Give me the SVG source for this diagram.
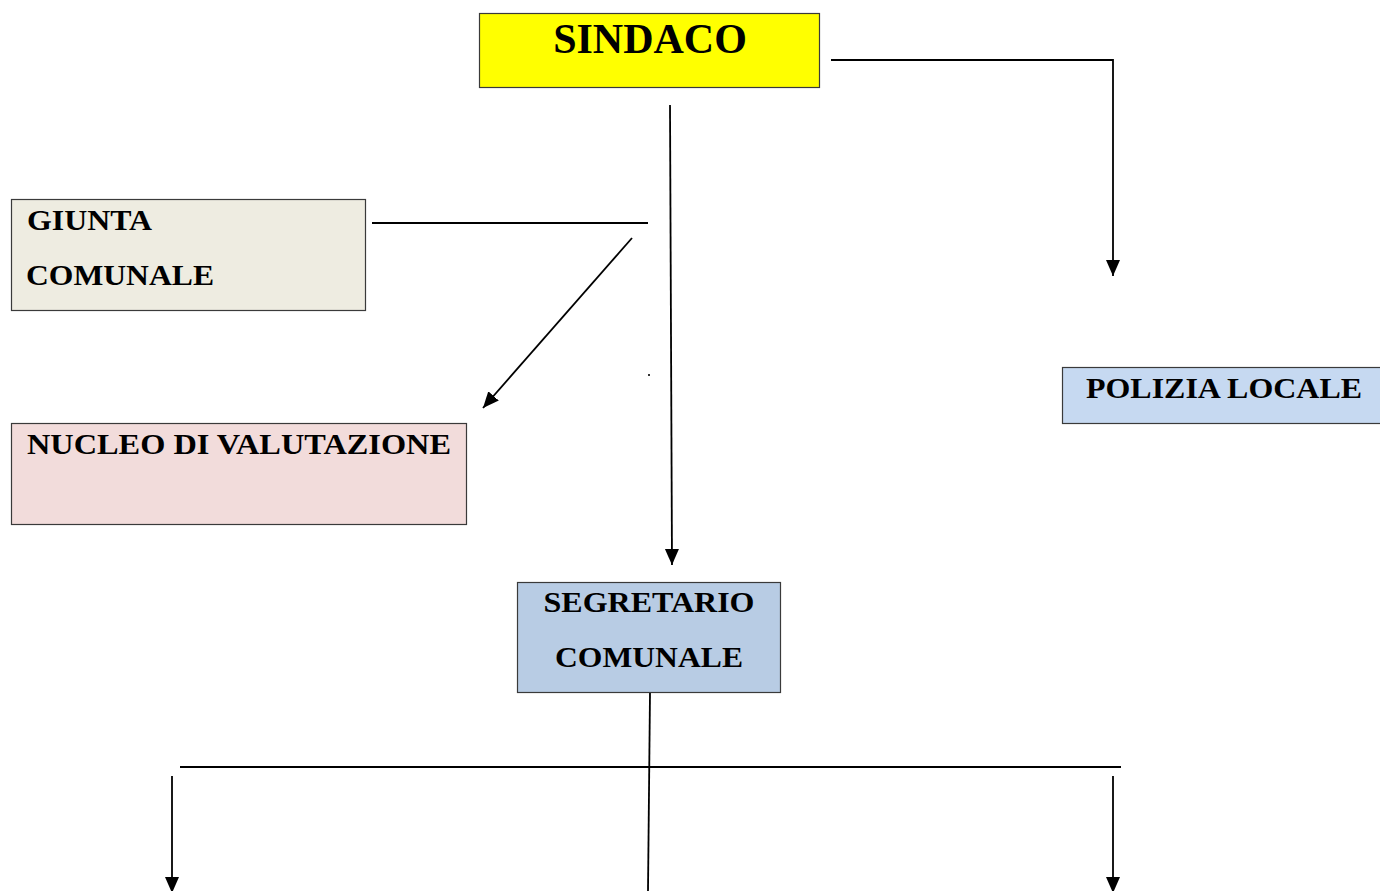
<svg xmlns="http://www.w3.org/2000/svg" width="1380" height="891" viewBox="0 0 1380 891">
<style>
.box{stroke:#3a3a3a;stroke-width:1.2}
.t{font-family:"Liberation Serif","Times New Roman",serif;font-weight:bold;fill:#000}
.c{fill:none;stroke:#000;stroke-width:1.8}
</style>
<defs>
<marker id="ah" markerUnits="userSpaceOnUse" markerWidth="18" markerHeight="18" viewBox="0 0 18 18" refX="16" refY="9" orient="auto">
<path d="M0,2 L16,9 L0,16 Z" fill="#000"/>
</marker>
</defs>
<rect width="1380" height="891" fill="#fff"/>
<g id="sindaco">
<rect class="box" x="479.5" y="13.5" width="340" height="74" fill="#ffff00"/>
<text class="t" x="650" y="53" font-size="42" text-anchor="middle">SINDACO</text>
</g>
<g id="giunta">
<rect class="box" x="11.5" y="199.5" width="354" height="111" fill="#eeece1"/>
<text class="t" x="27" y="230" font-size="30" textLength="125" lengthAdjust="spacingAndGlyphs">GIUNTA</text>
<text class="t" x="26" y="285" font-size="30" textLength="188" lengthAdjust="spacingAndGlyphs">COMUNALE</text>
</g>
<g id="nucleo">
<rect class="box" x="11.5" y="423.5" width="455" height="101" fill="#f2dcdb"/>
<text class="t" x="27" y="454" font-size="30" textLength="424" lengthAdjust="spacingAndGlyphs">NUCLEO DI VALUTAZIONE</text>
</g>
<g id="polizia">
<rect class="box" x="1062.5" y="367.5" width="330" height="56" fill="#c6d9f1"/>
<text class="t" x="1086" y="398" font-size="30" textLength="276" lengthAdjust="spacingAndGlyphs">POLIZIA LOCALE</text>
</g>
<g id="segretario">
<rect class="box" x="517.5" y="582.5" width="263" height="110" fill="#b8cce4"/>
<text class="t" x="649" y="612" font-size="30" text-anchor="middle" textLength="211" lengthAdjust="spacingAndGlyphs">SEGRETARIO</text>
<text class="t" x="649" y="667" font-size="30" text-anchor="middle" textLength="188" lengthAdjust="spacingAndGlyphs">COMUNALE</text>
</g>
<g id="connectors">
<polyline class="c" points="831,60 1113,60 1113,276" marker-end="url(#ah)"/>
<line class="c" x1="670" y1="105" x2="672" y2="565" marker-end="url(#ah)"/>
<line class="c" x1="372" y1="223" x2="648" y2="223"/>
<line class="c" x1="632" y1="238" x2="483" y2="408" marker-end="url(#ah)"/>
<line class="c" x1="650" y1="693" x2="648" y2="891"/>
<line class="c" x1="180" y1="767" x2="1121" y2="767" stroke-width="2.2"/>
<line class="c" x1="172" y1="776" x2="172" y2="893" marker-end="url(#ah)"/>
<line class="c" x1="1113" y1="776" x2="1113" y2="893" marker-end="url(#ah)"/>
</g>
<rect x="648" y="374" width="2" height="2" fill="#333"/>
</svg>
